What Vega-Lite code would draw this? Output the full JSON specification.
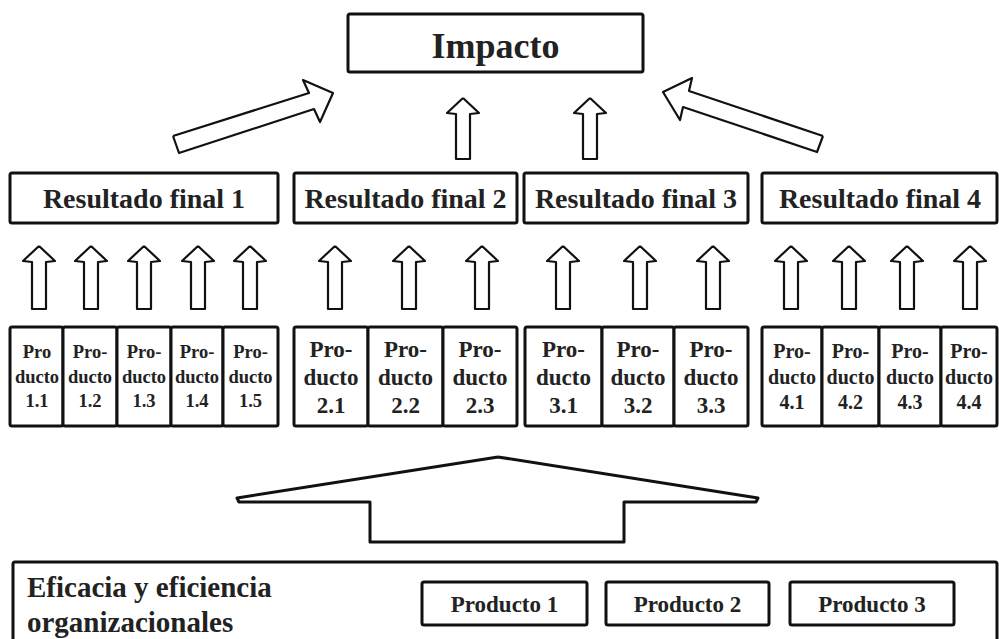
{
"$schema": "https://vega.github.io/schema/vega-lite/v6.json",
"width": 999, "height": 639, "padding": 0, "autosize": {"type": "none"},
"background": "white",
"config": {"view": {"stroke": null}},
"datasets": {
"boxes": [
{"x":13,"x2":997,"y":562,"y2":660},
{"x":348,"x2":643,"y":14,"y2":72},
{"x":10,"x2":278,"y":173,"y2":223},
{"x":294,"x2":517,"y":173,"y2":223},
{"x":524,"x2":748,"y":173,"y2":223},
{"x":762,"x2":997,"y":173,"y2":223},
{"x":10,"x2":63,"y":327,"y2":426},
{"x":63,"x2":117,"y":327,"y2":426},
{"x":117,"x2":171,"y":327,"y2":426},
{"x":171,"x2":223,"y":327,"y2":426},
{"x":223,"x2":278,"y":327,"y2":426},
{"x":294,"x2":368,"y":327,"y2":426},
{"x":368,"x2":443,"y":327,"y2":426},
{"x":443,"x2":517,"y":327,"y2":426},
{"x":525,"x2":602,"y":327,"y2":426},
{"x":602,"x2":674,"y":327,"y2":426},
{"x":674,"x2":748,"y":327,"y2":426},
{"x":762,"x2":822,"y":327,"y2":426},
{"x":822,"x2":879,"y":327,"y2":426},
{"x":879,"x2":941,"y":327,"y2":426},
{"x":941,"x2":997,"y":327,"y2":426},
{"x":422,"x2":587,"y":582,"y2":625},
{"x":606,"x2":769,"y":582,"y2":625},
{"x":790,"x2":954,"y":582,"y2":625}
],
"arrows": [
{"a":"u1","o":0,"x":39,"y":246},{"a":"u1","o":1,"x":55,"y":261},{"a":"u1","o":2,"x":46,"y":262},{"a":"u1","o":3,"x":46,"y":309},{"a":"u1","o":4,"x":32,"y":309},{"a":"u1","o":5,"x":32,"y":262},{"a":"u1","o":6,"x":23,"y":261},{"a":"u1","o":7,"x":39,"y":246},
{"a":"u2","o":0,"x":91,"y":246},{"a":"u2","o":1,"x":107,"y":261},{"a":"u2","o":2,"x":98,"y":262},{"a":"u2","o":3,"x":98,"y":309},{"a":"u2","o":4,"x":84,"y":309},{"a":"u2","o":5,"x":84,"y":262},{"a":"u2","o":6,"x":75,"y":261},{"a":"u2","o":7,"x":91,"y":246},
{"a":"u3","o":0,"x":144,"y":246},{"a":"u3","o":1,"x":160,"y":261},{"a":"u3","o":2,"x":151,"y":262},{"a":"u3","o":3,"x":151,"y":309},{"a":"u3","o":4,"x":137,"y":309},{"a":"u3","o":5,"x":137,"y":262},{"a":"u3","o":6,"x":128,"y":261},{"a":"u3","o":7,"x":144,"y":246},
{"a":"u4","o":0,"x":198,"y":246},{"a":"u4","o":1,"x":214,"y":261},{"a":"u4","o":2,"x":205,"y":262},{"a":"u4","o":3,"x":205,"y":309},{"a":"u4","o":4,"x":191,"y":309},{"a":"u4","o":5,"x":191,"y":262},{"a":"u4","o":6,"x":182,"y":261},{"a":"u4","o":7,"x":198,"y":246},
{"a":"u5","o":0,"x":250,"y":246},{"a":"u5","o":1,"x":266,"y":261},{"a":"u5","o":2,"x":257,"y":262},{"a":"u5","o":3,"x":257,"y":309},{"a":"u5","o":4,"x":243,"y":309},{"a":"u5","o":5,"x":243,"y":262},{"a":"u5","o":6,"x":234,"y":261},{"a":"u5","o":7,"x":250,"y":246},
{"a":"u6","o":0,"x":335,"y":246},{"a":"u6","o":1,"x":351,"y":261},{"a":"u6","o":2,"x":342,"y":262},{"a":"u6","o":3,"x":342,"y":309},{"a":"u6","o":4,"x":328,"y":309},{"a":"u6","o":5,"x":328,"y":262},{"a":"u6","o":6,"x":319,"y":261},{"a":"u6","o":7,"x":335,"y":246},
{"a":"u7","o":0,"x":409,"y":246},{"a":"u7","o":1,"x":425,"y":261},{"a":"u7","o":2,"x":416,"y":262},{"a":"u7","o":3,"x":416,"y":309},{"a":"u7","o":4,"x":402,"y":309},{"a":"u7","o":5,"x":402,"y":262},{"a":"u7","o":6,"x":393,"y":261},{"a":"u7","o":7,"x":409,"y":246},
{"a":"u8","o":0,"x":482,"y":246},{"a":"u8","o":1,"x":498,"y":261},{"a":"u8","o":2,"x":489,"y":262},{"a":"u8","o":3,"x":489,"y":309},{"a":"u8","o":4,"x":475,"y":309},{"a":"u8","o":5,"x":475,"y":262},{"a":"u8","o":6,"x":466,"y":261},{"a":"u8","o":7,"x":482,"y":246},
{"a":"u9","o":0,"x":563,"y":246},{"a":"u9","o":1,"x":579,"y":261},{"a":"u9","o":2,"x":570,"y":262},{"a":"u9","o":3,"x":570,"y":309},{"a":"u9","o":4,"x":556,"y":309},{"a":"u9","o":5,"x":556,"y":262},{"a":"u9","o":6,"x":547,"y":261},{"a":"u9","o":7,"x":563,"y":246},
{"a":"u10","o":0,"x":640,"y":246},{"a":"u10","o":1,"x":656,"y":261},{"a":"u10","o":2,"x":647,"y":262},{"a":"u10","o":3,"x":647,"y":309},{"a":"u10","o":4,"x":633,"y":309},{"a":"u10","o":5,"x":633,"y":262},{"a":"u10","o":6,"x":624,"y":261},{"a":"u10","o":7,"x":640,"y":246},
{"a":"u11","o":0,"x":713,"y":246},{"a":"u11","o":1,"x":729,"y":261},{"a":"u11","o":2,"x":720,"y":262},{"a":"u11","o":3,"x":720,"y":309},{"a":"u11","o":4,"x":706,"y":309},{"a":"u11","o":5,"x":706,"y":262},{"a":"u11","o":6,"x":697,"y":261},{"a":"u11","o":7,"x":713,"y":246},
{"a":"u12","o":0,"x":791,"y":246},{"a":"u12","o":1,"x":807,"y":261},{"a":"u12","o":2,"x":798,"y":262},{"a":"u12","o":3,"x":798,"y":309},{"a":"u12","o":4,"x":784,"y":309},{"a":"u12","o":5,"x":784,"y":262},{"a":"u12","o":6,"x":775,"y":261},{"a":"u12","o":7,"x":791,"y":246},
{"a":"u13","o":0,"x":849,"y":246},{"a":"u13","o":1,"x":865,"y":261},{"a":"u13","o":2,"x":856,"y":262},{"a":"u13","o":3,"x":856,"y":309},{"a":"u13","o":4,"x":842,"y":309},{"a":"u13","o":5,"x":842,"y":262},{"a":"u13","o":6,"x":833,"y":261},{"a":"u13","o":7,"x":849,"y":246},
{"a":"u14","o":0,"x":907,"y":246},{"a":"u14","o":1,"x":923,"y":261},{"a":"u14","o":2,"x":914,"y":262},{"a":"u14","o":3,"x":914,"y":309},{"a":"u14","o":4,"x":900,"y":309},{"a":"u14","o":5,"x":900,"y":262},{"a":"u14","o":6,"x":891,"y":261},{"a":"u14","o":7,"x":907,"y":246},
{"a":"u15","o":0,"x":970,"y":246},{"a":"u15","o":1,"x":986,"y":261},{"a":"u15","o":2,"x":977,"y":262},{"a":"u15","o":3,"x":977,"y":309},{"a":"u15","o":4,"x":963,"y":309},{"a":"u15","o":5,"x":963,"y":262},{"a":"u15","o":6,"x":954,"y":261},{"a":"u15","o":7,"x":970,"y":246},
{"a":"c1","o":0,"x":463,"y":98},{"a":"c1","o":1,"x":479,"y":113},{"a":"c1","o":2,"x":470,"y":114},{"a":"c1","o":3,"x":470,"y":159},{"a":"c1","o":4,"x":456,"y":159},{"a":"c1","o":5,"x":456,"y":114},{"a":"c1","o":6,"x":447,"y":113},{"a":"c1","o":7,"x":463,"y":98},
{"a":"c2","o":0,"x":590,"y":98},{"a":"c2","o":1,"x":606,"y":113},{"a":"c2","o":2,"x":597,"y":114},{"a":"c2","o":3,"x":597,"y":159},{"a":"c2","o":4,"x":583,"y":159},{"a":"c2","o":5,"x":583,"y":114},{"a":"c2","o":6,"x":574,"y":113},{"a":"c2","o":7,"x":590,"y":98},
{"a":"d1","o":0,"x":173,"y":136},{"a":"d1","o":1,"x":309,"y":93},{"a":"d1","o":2,"x":303,"y":80},{"a":"d1","o":3,"x":333,"y":93},{"a":"d1","o":4,"x":320,"y":122},{"a":"d1","o":5,"x":314,"y":109},{"a":"d1","o":6,"x":179,"y":153},{"a":"d1","o":7,"x":173,"y":136},
{"a":"d2","o":0,"x":823,"y":136},{"a":"d2","o":1,"x":689,"y":91},{"a":"d2","o":2,"x":692,"y":78},{"a":"d2","o":3,"x":663,"y":92},{"a":"d2","o":4,"x":680,"y":120},{"a":"d2","o":5,"x":683,"y":107},{"a":"d2","o":6,"x":817,"y":152},{"a":"d2","o":7,"x":823,"y":136}
],
"big": [
{"a":"B","o":0,"x":498,"y":457},{"a":"B","o":1,"x":758,"y":498},{"a":"B","o":2,"x":756,"y":502},{"a":"B","o":3,"x":624,"y":502},{"a":"B","o":4,"x":624,"y":542},{"a":"B","o":5,"x":370,"y":542},{"a":"B","o":6,"x":370,"y":502},{"a":"B","o":7,"x":239,"y":502},{"a":"B","o":8,"x":237,"y":498},{"a":"B","o":9,"x":498,"y":457}
],
"texts": [
{"g":"imp","x":495.5,"y":58,"label":"Impacto"},
{"g":"res","x":144,"y":208,"label":"Resultado final 1"},
{"g":"res","x":405.5,"y":208,"label":"Resultado final 2"},
{"g":"res","x":636,"y":208,"label":"Resultado final 3"},
{"g":"res","x":880,"y":208,"label":"Resultado final 4"},
{"g":"p1","x":37,"y":358,"label":"Pro\nducto\n1.1"},
{"g":"p1","x":90,"y":358,"label":"Pro-\nducto\n1.2"},
{"g":"p1","x":144,"y":358,"label":"Pro-\nducto\n1.3"},
{"g":"p1","x":197,"y":358,"label":"Pro-\nducto\n1.4"},
{"g":"p1","x":250.5,"y":358,"label":"Pro-\nducto\n1.5"},
{"g":"p2","x":331,"y":357,"label":"Pro-\nducto\n2.1"},
{"g":"p2","x":405.5,"y":357,"label":"Pro-\nducto\n2.2"},
{"g":"p2","x":480,"y":357,"label":"Pro-\nducto\n2.3"},
{"g":"p2","x":563.5,"y":357,"label":"Pro-\nducto\n3.1"},
{"g":"p2","x":638,"y":357,"label":"Pro-\nducto\n3.2"},
{"g":"p2","x":711,"y":357,"label":"Pro-\nducto\n3.3"},
{"g":"p4","x":792,"y":358,"label":"Pro-\nducto\n4.1"},
{"g":"p4","x":850.5,"y":358,"label":"Pro-\nducto\n4.2"},
{"g":"p4","x":910,"y":358,"label":"Pro-\nducto\n4.3"},
{"g":"p4","x":969,"y":358,"label":"Pro-\nducto\n4.4"},
{"g":"eff","x":27,"y":597,"label":"Eficacia y eficiencia\norganizacionales"},
{"g":"pb","x":504.5,"y":612,"label":"Producto 1"},
{"g":"pb","x":687.5,"y":612,"label":"Producto 2"},
{"g":"pb","x":872,"y":612,"label":"Producto 3"}
]
},
"encoding": {
"x": {"field":"x","type":"quantitative","scale":{"domain":[0,999],"nice":false,"zero":false},"axis":null},
"y": {"field":"y","type":"quantitative","scale":{"domain":[0,639],"nice":false,"zero":false,"reverse":true},"axis":null}
},
"layer": [
{"data":{"name":"boxes"},"mark":{"type":"rect","fill":"white","stroke":"#111","strokeWidth":3,"cornerRadius":2,"clip":true},
 "encoding":{"x2":{"field":"x2"},"y2":{"field":"y2"}}},
{"data":{"name":"arrows"},"mark":{"type":"line","stroke":"#111","strokeWidth":2.2,"strokeJoin":"round","interpolate":"linear"},
 "encoding":{"order":{"field":"o","type":"quantitative"},"detail":{"field":"a","type":"nominal"}}},
{"data":{"name":"big"},"mark":{"type":"line","stroke":"#111","strokeWidth":3,"strokeJoin":"round","interpolate":"linear"},
 "encoding":{"order":{"field":"o","type":"quantitative"},"detail":{"field":"a","type":"nominal"}}},
{"data":{"name":"texts"},"transform":[{"filter":"datum.g==='imp'"}],
 "mark":{"type":"text","font":"Liberation Serif","fontWeight":"bold","fontSize":36,"fill":"#222","align":"center","baseline":"alphabetic"},
 "encoding":{"text":{"field":"label"}}},
{"data":{"name":"texts"},"transform":[{"filter":"datum.g==='res'"}],
 "mark":{"type":"text","font":"Liberation Serif","fontWeight":"bold","fontSize":28,"fill":"#222","align":"center","baseline":"alphabetic"},
 "encoding":{"text":{"field":"label"}}},
{"data":{"name":"texts"},"transform":[{"filter":"datum.g==='p1'"}],
 "mark":{"type":"text","font":"Liberation Serif","fontWeight":"bold","fontSize":18.5,"lineHeight":24.5,"lineBreak":"\n","fill":"#222","align":"center","baseline":"alphabetic"},
 "encoding":{"text":{"field":"label"}}},
{"data":{"name":"texts"},"transform":[{"filter":"datum.g==='p2'"}],
 "mark":{"type":"text","font":"Liberation Serif","fontWeight":"bold","fontSize":23,"lineHeight":28,"lineBreak":"\n","fill":"#222","align":"center","baseline":"alphabetic"},
 "encoding":{"text":{"field":"label"}}},
{"data":{"name":"texts"},"transform":[{"filter":"datum.g==='p4'"}],
 "mark":{"type":"text","font":"Liberation Serif","fontWeight":"bold","fontSize":20,"lineHeight":25.5,"lineBreak":"\n","fill":"#222","align":"center","baseline":"alphabetic"},
 "encoding":{"text":{"field":"label"}}},
{"data":{"name":"texts"},"transform":[{"filter":"datum.g==='eff'"}],
 "mark":{"type":"text","font":"Liberation Serif","fontWeight":"bold","fontSize":29,"lineHeight":35,"lineBreak":"\n","fill":"#222","align":"left","baseline":"alphabetic"},
 "encoding":{"text":{"field":"label"}}},
{"data":{"name":"texts"},"transform":[{"filter":"datum.g==='pb'"}],
 "mark":{"type":"text","font":"Liberation Serif","fontWeight":"bold","fontSize":23,"fill":"#222","align":"center","baseline":"alphabetic"},
 "encoding":{"text":{"field":"label"}}}
]
}
